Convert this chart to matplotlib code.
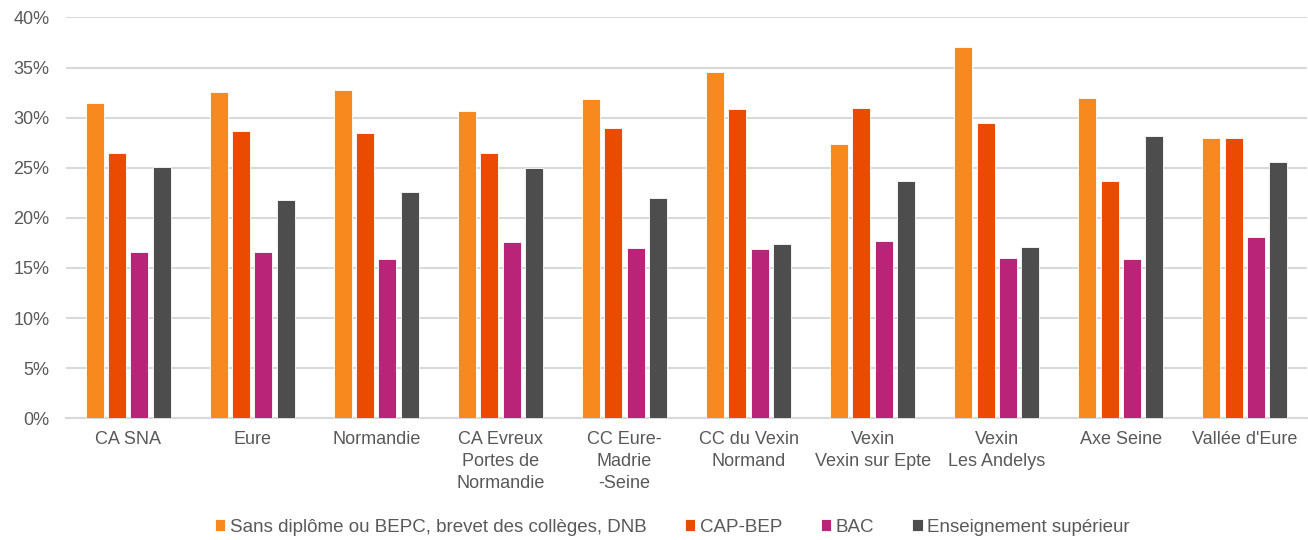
import matplotlib
matplotlib.use("Agg")
import matplotlib.pyplot as plt
import numpy as np
from matplotlib.ticker import PercentFormatter

plt.rcParams['font.family'] = ['Liberation Sans', 'DejaVu Sans']

territoires = [
    "CA SNA", "Eure", "Normandie", "CA Evreux\nPortes de\nNormandie",
    "CC Eure-\nMadrie\n-Seine", "CC du Vexin\nNormand", "Vexin\nVexin sur Epte",
    "Vexin\nLes Andelys", "Axe Seine", "Vallée d'Eure",
]
series_names = [
    "Sans diplôme ou BEPC, brevet des collèges, DNB",
    "CAP-BEP",
    "BAC",
    "Enseignement supérieur",
]
sans_diplome = [31.5, 32.6, 32.8, 30.7, 31.9, 34.6, 27.4, 37.1, 32.0, 28.0]
cap_bep = [26.5, 28.7, 28.5, 26.5, 29.0, 30.9, 31.0, 29.5, 23.65, 28.0]
bac = [16.6, 16.6, 15.9, 17.6, 17.0, 16.9, 17.7, 16.0, 15.9, 18.1]
superieur = [25.1, 21.8, 22.6, 24.95, 22.0, 17.4, 23.65, 17.1, 28.2, 25.55]
colors = ["#F7891F", "#EA4B00", "#B92479", "#4D4D4D"]

series = [sans_diplome, cap_bep, bac, superieur]

fig = plt.figure(figsize=(13.08, 5.40), dpi=100)
ax = fig.add_axes([0.0505, 0.2254, 0.9487, 0.7422])

x = np.arange(len(territoires))
step = 0.18
width = 0.145
for i, (vals, name, col) in enumerate(zip(series, series_names, colors)):
    ax.bar(x + (i - 1.5) * step, np.array(vals) / 100, width=width, color=col,
           edgecolor="#ffffff", linewidth=0.6, label=name, zorder=3)

ax.set_xlim(-0.5, len(territoires) - 0.5)
ax.set_ylim(0, 0.40)
ax.set_yticks(np.arange(0, 0.401, 0.05))
ax.yaxis.set_major_formatter(PercentFormatter(1.0, decimals=0))
ax.grid(axis="y", color="#D9D9D9", linewidth=1.5, zorder=0)
ax.set_axisbelow(True)
for s in ["top", "right", "left"]:
    ax.spines[s].set_visible(False)
ax.spines["bottom"].set_color("#D9D9D9")
ax.spines["bottom"].set_linewidth(1.5)

ax.set_xticks(x)
ax.set_xticklabels(territoires, linespacing=1.4)
ax.tick_params(axis="x", length=0, pad=9, labelsize=13, labelcolor="#595959")
ax.tick_params(axis="y", length=0, pad=12, labelsize=13, labelcolor="#595959")

leg = fig.legend(loc="center", bbox_to_anchor=(0.514, 0.024), ncol=4, frameon=False,
                 fontsize=13.5, handlelength=0.55, handleheight=0.55,
                 handletextpad=0.25, columnspacing=2.05)
for t in leg.get_texts():
    t.set_color("#595959")

fig.savefig("out.png", dpi=100)
